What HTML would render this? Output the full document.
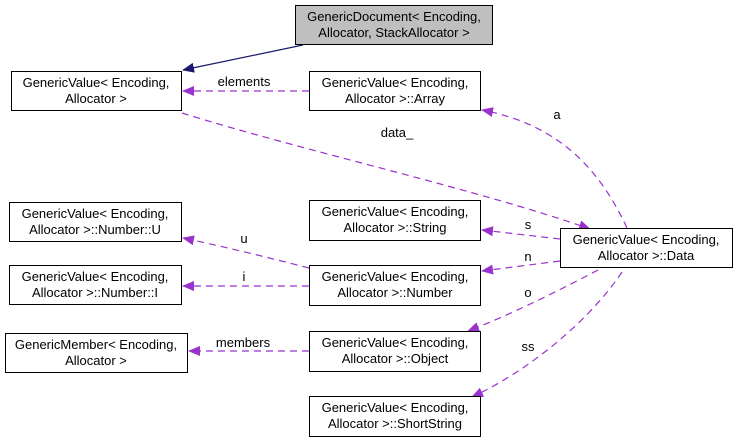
<!DOCTYPE html>
<html><head><meta charset="utf-8"><style>
html,body{margin:0;padding:0;background:#fff;}
svg{display:block;font-family:"Liberation Sans",Arial,sans-serif;font-size:13px;}
</style></head><body>
<svg width="736" height="443" viewBox="0 0 736 443" xmlns="http://www.w3.org/2000/svg">
<defs>
<marker id="ap" markerWidth="12" markerHeight="10" refX="11" refY="5" orient="auto" markerUnits="userSpaceOnUse"><path d="M0,0 L12,5 L0,10 z" fill="#9a32cd"/></marker>
<marker id="an" markerWidth="12" markerHeight="10" refX="11" refY="5" orient="auto" markerUnits="userSpaceOnUse"><path d="M0,0 L12,5 L0,10 z" fill="#191970"/></marker>
</defs>
<g fill="none" stroke-width="1.2">
<path d="M303,45 L183,70" stroke="#191970" marker-end="url(#an)"/>
<g stroke="#9a32cd" stroke-dasharray="7,5" marker-end="url(#ap)">
<path d="M309,91 L183,91"/>
<path d="M182,113 C300,150 480,190 590,229"/>
<path d="M627,228 C600,170 560,125 482,110"/>
<path d="M560,239 L482,230"/>
<path d="M560,261 L482,271"/>
<path d="M598,270 C560,290 510,315 468,331"/>
<path d="M622,272 C590,320 530,370 472,397"/>
<path d="M309,268 C270,258 230,248 183,238"/>
<path d="M309,286 L183,286"/>
<path d="M309,351 L189,351"/>
</g>
</g>
<g stroke="#000" stroke-width="1">
<rect x="295.5" y="5.5" width="197" height="39" fill="#bfbfbf"/>
<rect x="11.5" y="71.5" width="170" height="39" fill="#fff"/>
<rect x="309.5" y="71.5" width="171" height="39" fill="#fff"/>
<rect x="9.5" y="202.5" width="172" height="39" fill="#fff"/>
<rect x="309.5" y="200.5" width="171" height="40" fill="#fff"/>
<rect x="560.5" y="228.5" width="172" height="39" fill="#fff"/>
<rect x="9.5" y="265.5" width="172" height="39" fill="#fff"/>
<rect x="309.5" y="265.5" width="171" height="40" fill="#fff"/>
<rect x="5.5" y="333.5" width="182" height="39" fill="#fff"/>
<rect x="309.5" y="331.5" width="171" height="40" fill="#fff"/>
<rect x="309.5" y="396.5" width="171" height="40" fill="#fff"/>
</g>
<g fill="#000" text-anchor="middle">
<text x="394" y="21">GenericDocument&lt; Encoding,</text><text x="394" y="37">Allocator, StackAllocator &gt;</text>
<text x="96" y="87">GenericValue&lt; Encoding,</text><text x="96" y="103">Allocator &gt;</text>
<text x="395" y="87">GenericValue&lt; Encoding,</text><text x="395" y="103">Allocator &gt;::Array</text>
<text x="95" y="218">GenericValue&lt; Encoding,</text><text x="95" y="234">Allocator &gt;::Number::U</text>
<text x="395" y="216">GenericValue&lt; Encoding,</text><text x="395" y="232">Allocator &gt;::String</text>
<text x="646" y="244">GenericValue&lt; Encoding,</text><text x="646" y="260">Allocator &gt;::Data</text>
<text x="95" y="281">GenericValue&lt; Encoding,</text><text x="95" y="297">Allocator &gt;::Number::I</text>
<text x="395" y="281">GenericValue&lt; Encoding,</text><text x="395" y="297">Allocator &gt;::Number</text>
<text x="96" y="349">GenericMember&lt; Encoding,</text><text x="96" y="365">Allocator &gt;</text>
<text x="395" y="347">GenericValue&lt; Encoding,</text><text x="395" y="363">Allocator &gt;::Object</text>
<text x="395" y="412">GenericValue&lt; Encoding,</text><text x="395" y="428">Allocator &gt;::ShortString</text>
<text x="244" y="86">elements</text>
<text x="397" y="137">data_</text>
<text x="557" y="119">a</text>
<text x="528" y="229">s</text>
<text x="528" y="261">n</text>
<text x="528" y="297">o</text>
<text x="528" y="351">ss</text>
<text x="244" y="243">u</text>
<text x="244" y="281">i</text>
<text x="243" y="347">members</text>
</g>
</svg>
</body></html>
